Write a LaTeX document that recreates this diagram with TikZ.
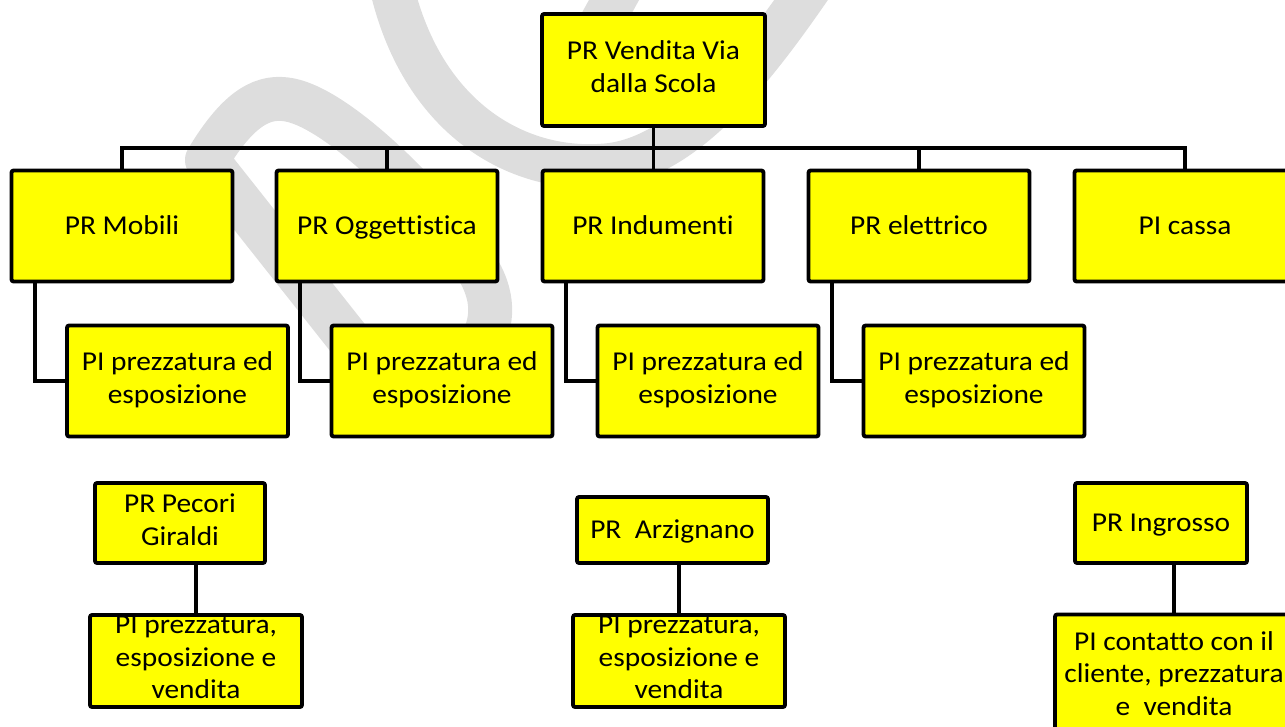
\documentclass[tikz,border=0pt]{standalone}
\usepackage{fontspec}
\setmainfont{Carlito}[Ligatures=NoCommon, FakeStretch=1.08]
\definecolor{wmgray}{RGB}{221,221,221}
\definecolor{boxyellow}{RGB}{255,255,0}
\newcommand{\boxstrut}{\rule[-4pt]{0pt}{18pt}}
\tikzset{
  box/.style={draw, fill=boxyellow, line width=2.2pt, rounded corners=1.2pt, align=center, inner sep=0pt, font=\fontsize{15.5}{18.5}\selectfont, execute at begin node=\boxstrut, execute at end node=\boxstrut},
  level/.style={box, minimum width=4.42cm, minimum height=2.22cm},
  wm/.style={wmgray, line width=25pt, line cap=round, line join=round},
  link/.style={line width=2.2pt}
}
\begin{document}
\begin{tikzpicture}[x=0.02cm, y=-0.02cm]
\useasboundingbox (0,0) rectangle (1285,727) ;

\draw [wm] (385,385) to (207,160) .. controls (240,105) and (265,95) .. (290,100) .. controls (340,110) and (430,200) .. (475,265) .. controls (515,325) and (470,375) .. (410,390) ;
\draw [wm] (390,-20) .. controls (420,120) and (520,175) .. (610,165) .. controls (690,155) and (760,60) .. (815,-20) ;
\draw [wm] (625,-20) to (570,80) ;

\node [level, minimum width=4.46cm, minimum height=2.24cm] (root) at (653.5,70) {PR Vendita Via\\dalla Scola} ;

\node [level] (mobili) at (122,226) {PR Mobili} ;
\node [level] (oggettistica) at (387,226) {PR Oggettistica} ;
\node [level] (indumenti) at (653,226) {PR Indumenti} ;
\node [level] (elettrico) at (919,226) {PR elettrico} ;
\node [level] (cassa) at (1185,226) {PI cassa} ;

\node [level] (pimobili) at (177.5,381) {PI prezzatura ed\\esposizione} ;
\node [level] (pioggettistica) at (442,381) {PI prezzatura ed\\esposizione} ;
\node [level] (piindumenti) at (708,381) {PI prezzatura ed\\esposizione} ;
\node [level] (pielettrico) at (974,381) {PI prezzatura ed\\esposizione} ;

\node [box, minimum width=3.4cm, minimum height=1.6cm] (pecori) at (180,523) {PR Pecori\\Giraldi} ;
\node [box, minimum width=4.24cm, minimum height=1.84cm] (pipecori) at (196,661) {PI prezzatura,\\esposizione e\\vendita} ;
\node [box, minimum width=3.82cm, minimum height=1.32cm] (arzignano) at (672.5,530) {PR\ \ Arzignano} ;
\node [box, minimum width=4.24cm, minimum height=1.84cm] (piarzignano) at (679,661) {PI prezzatura,\\esposizione e\\vendita} ;
\node [box, minimum width=3.44cm, minimum height=1.6cm] (ingrosso) at (1161,523) {PR Ingrosso} ;
\node [box, minimum width=4.76cm, minimum height=2.5cm] (piingrosso) at (1174,677) {PI contatto con il\\cliente, prezzatura\\e\ \ vendita} ;

\coordinate (bus) at (653,148) ;
\draw [link] (root.south) to (root.south |- indumenti.north) ;
\foreach \n in {mobili,oggettistica,elettrico,cassa}
  \draw [link] (\n.north) |- (bus) ;

\draw [link] (mobili.south west) ++(25,0) |- (pimobili.west) ;
\draw [link] (oggettistica.south west) ++(25,0) |- (pioggettistica.west) ;
\draw [link] (indumenti.south west) ++(25,0) |- (piindumenti.west) ;
\draw [link] (elettrico.south west) ++(25,0) |- (pielettrico.west) ;

\draw [link] (pipecori.north) to (pipecori.north |- pecori.south) ;
\draw [link] (piarzignano.north) to (piarzignano.north |- arzignano.south) ;
\draw [link] (piingrosso.north) to (piingrosso.north |- ingrosso.south) ;

\end{tikzpicture}
\end{document}
